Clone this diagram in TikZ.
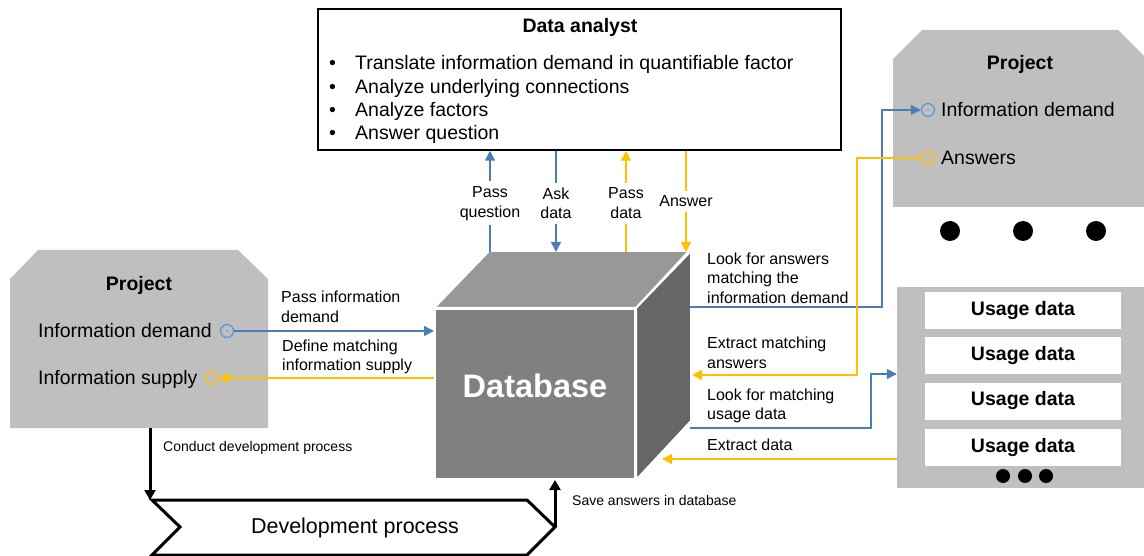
\documentclass[tikz,border=0pt]{standalone}
\usepackage{fontspec}
\setmainfont{Liberation Sans}
\usetikzlibrary{arrows.meta}
\definecolor{lineblue}{HTML}{4A7EBB}
\definecolor{portblue}{HTML}{5B9BD5}
\definecolor{lineorange}{HTML}{FFC000}
\definecolor{panelgray}{HTML}{BFBFBF}
\definecolor{cubefront}{HTML}{808080}
\definecolor{cubetop}{HTML}{989898}
\definecolor{cubeside}{HTML}{666666}
\newcommand{\bigtxt}{\fontsize{19.5pt}{23.5pt}\selectfont}
\newcommand{\midtxt}{\fontsize{16pt}{19.7pt}\selectfont}
\newcommand{\smltxt}{\fontsize{14pt}{17pt}\selectfont}

\begin{document}
\begin{tikzpicture}[x=1pt,y=-1pt,
	bluearrow/.style={draw=lineblue,line width=1.5pt,-{Triangle[length=10pt,width=10pt]}},
	orangearrow/.style={draw=lineorange,line width=1.5pt,-{Triangle[length=10pt,width=10pt]}},
	blackarrow/.style={draw=black,line width=3pt,-{Triangle[length=10pt,width=11pt]}},
	port/.style={circle,draw=#1,line width=1.3pt,minimum size=13pt,inner sep=0pt,
		path picture={\fill[#1] (path picture bounding box.center) circle (1pt);}},
	lbl/.style={font=\midtxt,align=left,anchor=west,inner sep=0pt},
	toplbl/.style={font=\midtxt,align=center,fill=white,inner xsep=1pt,inner ysep=5pt},
	usagebox/.style={fill=white,minimum width=196pt,minimum height=37pt,inner sep=0pt,font=\bigtxt\bfseries},
	blackdot/.style={circle,fill=black,inner sep=0pt,minimum size=#1}]
	\useasboundingbox (0,0) rectangle (1144,556);
	\node[draw,line width=1.5pt,minimum width=523pt,minimum height=141pt,inner sep=0pt] (analyst) at (579.5,79.5) {};
	\node[font=\bigtxt\bfseries] (analysttitle) at (580,27) {Data analyst};
	\node[anchor=west,font=\bigtxt,inner sep=0pt] (task1) at (329,64) {\makebox[26pt][l]{\textbullet}Translate information demand in quantifiable factor};
	\node[anchor=west,font=\bigtxt,inner sep=0pt] (task2) at (329,88) {\makebox[26pt][l]{\textbullet}Analyze underlying connections};
	\node[anchor=west,font=\bigtxt,inner sep=0pt] (task3) at (329,111) {\makebox[26pt][l]{\textbullet}Analyze factors};
	\node[anchor=west,font=\bigtxt,inner sep=0pt] (task4) at (329,134) {\makebox[26pt][l]{\textbullet}Answer question};
	\node[draw=white,line width=2pt,fill=cubefront,minimum width=200pt,minimum height=170pt,inner sep=0pt,text=white,font=\fontsize{32.5pt}{36pt}\selectfont\bfseries,text depth=16pt] (dbfront) at (535,394) {Database};
	\draw[draw=white,line width=2pt,fill=cubetop] (dbfront.north west) -- ++(55,-57) -- ++(200,0) -- (dbfront.north east) -- cycle;
	\draw[draw=white,line width=2pt,fill=cubeside] (dbfront.north east) -- ++(55,-57) -- ++(0,170) -- (dbfront.south east) -- cycle;
	\coordinate (cq) at (490,252);
	\coordinate (ca) at (556,252);
	\coordinate (cp) at (626,252);
	\coordinate (cn) at (686,252);
	\draw[bluearrow] (cq) -- node[toplbl,yshift=-2pt] {Pass\\question} (cq |- analyst.south);
	\draw[bluearrow] (ca |- analyst.south) -- node[toplbl,yshift=-2pt] {Ask\\data} (ca);
	\draw[orangearrow] (cp) -- node[toplbl,yshift=-2pt] {Pass\\data} (cp |- analyst.south);
	\draw[orangearrow] (cn |- analyst.south) -- node[toplbl] {Answer} (cn);
	\fill[panelgray] (10,279) -- (38,250) -- (238,250) -- (268,279) -- (268,428) -- (10,428) -- cycle;
	\node[font=\bigtxt\bfseries] (lproj) at (139,285) {Project};
	\node[lbl,font=\bigtxt] (ldemtxt) at (38,331) {Information demand};
	\node[port=portblue] (ldem) at (227,331) {};
	\node[lbl,font=\bigtxt] (lsuptxt) at (38,379) {Information supply};
	\node[port=lineorange] (lsup) at (212,378) {};
	\draw[bluearrow] (ldem) -- (ldem -| dbfront.west);
	\draw[orangearrow] (lsup -| dbfront.west) -- (lsup);
	\node[lbl] (passdem) at (281,307) {Pass information\\demand};
	\node[lbl] (defsup) at (282,357) {Define matching\\information supply};
	\fill[panelgray] (893,59) -- (922,30) -- (1118,30) -- (1144,56) -- (1144,207) -- (893,207) -- cycle;
	\node[font=\bigtxt\bfseries] (rproj) at (1020,64) {Project};
	\node[port=portblue] (rdem) at (928,110) {};
	\node[lbl,font=\bigtxt] (rdemtxt) at (941,110) {Information demand};
	\node[port=lineorange] (rans) at (928,158) {};
	\node[lbl,font=\bigtxt] (ranstxt) at (941,158) {Answers};
	\node[blackdot=20pt] (rdot1) at (950,231) {};
	\node[blackdot=20pt] (rdot2) at (1023,231) {};
	\node[blackdot=20pt] (rdot3) at (1096,231) {};
	\node[fill=panelgray,minimum width=247pt,minimum height=201pt,inner sep=0pt] (usage) at (1020.5,387.5) {};
	\node[usagebox] (usage1) at (1023,310.5) {Usage data};
	\node[usagebox] (usage2) at (1023,355.5) {Usage data};
	\node[usagebox] (usage3) at (1023,401) {Usage data};
	\node[usagebox] (usage4) at (1023,447) {Usage data};
	\node[blackdot=14pt] (udot1) at (1003,476) {};
	\node[blackdot=14pt] (udot2) at (1025,476) {};
	\node[blackdot=14pt] (udot3) at (1046,476) {};
	\coordinate (r1) at (690,307);
	\coordinate (r2) at (692,375);
	\coordinate (r3) at (690,428);
	\coordinate (r4) at (662,459);
	\draw[bluearrow] (r1) -- ++(192,0) |- (rdem);
	\draw[orangearrow] (rans) -- ++(-71,0) |- (r2);
	\draw[bluearrow] (r3) -- ++(181,0) |- ([yshift=13.5pt]usage.west);
	\draw[orangearrow] ([yshift=-71.5pt]usage.west) -- (r4);
	\node[lbl] (lookans) at (707,278) {Look for answers\\matching the\\information demand};
	\node[lbl] (extans) at (707,353) {Extract matching\\answers};
	\node[lbl] (lookuse) at (707,406) {Look for matching\\usage data};
	\node[lbl] (extdata) at (707,445) {Extract data};
	\draw[line width=3pt,fill=white] (152,500) -- (527,500) -- (555,527) -- (527,555) -- (152,555) -- (180,527) -- cycle;
	\node[font=\fontsize{21.5pt}{25pt}\selectfont] (devproc) at (355,528) {Development process};
	\coordinate (lbot) at (150,428);
	\coordinate (devin) at (150,500);
	\coordinate (devtip) at (555,527);
	\draw[blackarrow] (lbot) -- (devin);
	\draw[blackarrow] (devtip) -- (devtip |- dbfront.south);
	\node[lbl,font=\smltxt] (conduct) at (163,448) {Conduct development process};
	\node[lbl,font=\smltxt] (save) at (572,500) {Save answers in database};
\end{tikzpicture}
\end{document}
